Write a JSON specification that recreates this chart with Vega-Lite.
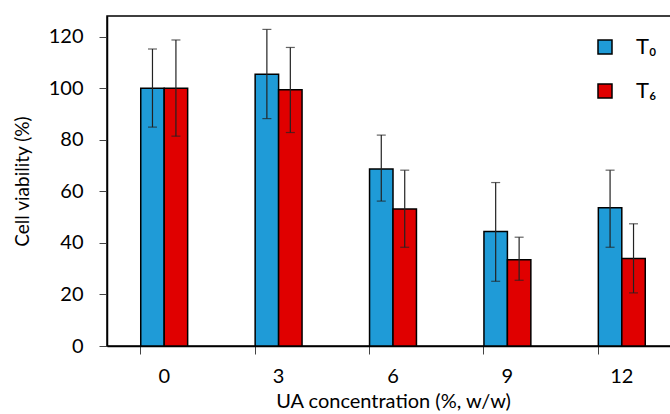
{
  "$schema": "https://vega.github.io/schema/vega-lite/v6.json",
  "autosize": "none",
  "padding": {"left": 107, "top": 16, "right": 0, "bottom": 68},
  "width": 572,
  "height": 330,
  "background": "white",
  "config": {
    "view": {"stroke": "black", "strokeWidth": 1.5},
    "font": "Lato",
    "axis": {"grid": false, "domainColor": "black", "domainWidth": 1.5, "tickColor": "#444", "tickWidth": 1, "labelColor": "black", "titleColor": "black", "labelFont": "Lato", "titleFont": "Lato", "titleFontWeight": "normal"}
  },
  "data": {
    "values": [
      {"conc": "0", "time": "T0", "value": 100, "lo": 84.9, "hi": 115.2},
      {"conc": "0", "time": "T6", "value": 100, "lo": 81.4, "hi": 118.7},
      {"conc": "3", "time": "T0", "value": 105.4, "lo": 88.2, "hi": 122.8},
      {"conc": "3", "time": "T6", "value": 99.4, "lo": 82.8, "hi": 115.8},
      {"conc": "6", "time": "T0", "value": 68.7, "lo": 56.2, "hi": 81.8},
      {"conc": "6", "time": "T6", "value": 53.1, "lo": 38.3, "hi": 68.2},
      {"conc": "9", "time": "T0", "value": 44.4, "lo": 25.1, "hi": 63.4},
      {"conc": "9", "time": "T6", "value": 33.5, "lo": 25.5, "hi": 42.2},
      {"conc": "12", "time": "T0", "value": 53.6, "lo": 38.3, "hi": 68.2},
      {"conc": "12", "time": "T6", "value": 33.9, "lo": 20.6, "hi": 47.4}
    ]
  },
  "encoding": {
    "x": {
      "field": "conc", "type": "nominal", "sort": ["0", "3", "6", "9", "12"],
      "scale": {"paddingInner": 0.59, "paddingOuter": 0.295},
      "axis": {"title": "UA concentration (%, w/w)", "labelAngle": 0, "bandPosition": 0, "tickSize": 8, "labelFontSize": 20, "titleFontSize": 20, "labelPadding": 12, "titlePadding": 5, "labelBaseline": "top"}
    },
    "xOffset": {"field": "time", "type": "nominal", "scale": {"paddingInner": 0, "paddingOuter": 0}}
  },
  "layer": [
    {
      "mark": {"type": "bar", "stroke": "black", "strokeWidth": 1.5},
      "encoding": {
        "y": {
          "field": "value", "type": "quantitative",
          "scale": {"domain": [0, 128], "nice": false},
          "axis": {"title": "Cell viability (%)", "values": [0, 20, 40, 60, 80, 100, 120], "tickSize": 8, "labelFontSize": 20, "titleFontSize": 19, "labelPadding": 16, "titlePadding": 16}
        },
        "color": {
          "field": "time", "type": "nominal",
          "scale": {"domain": ["T0", "T6"], "range": ["#1f9bd7", "#e00000"]},
          "legend": {
            "title": null, "orient": "none", "legendX": 487, "legendY": 20,
            "symbolType": "square", "symbolSize": 196, "symbolStrokeColor": "black", "symbolStrokeWidth": 1.5,
            "labelExpr": "datum.label == 'T0' ? 'T₀' : 'T₆'",
            "labelFontSize": 22, "labelOffset": 20, "rowPadding": 22, "padding": 0, "labelColor": "black"
          }
        }
      }
    },
    {
      "mark": {"type": "rule", "color": "#222", "strokeWidth": 1.2},
      "encoding": {
        "y": {"field": "lo", "type": "quantitative"},
        "y2": {"field": "hi"}
      }
    },
    {
      "mark": {"type": "tick", "color": "#222", "size": 9, "thickness": 1.2},
      "encoding": {"y": {"field": "lo", "type": "quantitative"}}
    },
    {
      "mark": {"type": "tick", "color": "#222", "size": 9, "thickness": 1.2},
      "encoding": {"y": {"field": "hi", "type": "quantitative"}}
    }
  ]
}
